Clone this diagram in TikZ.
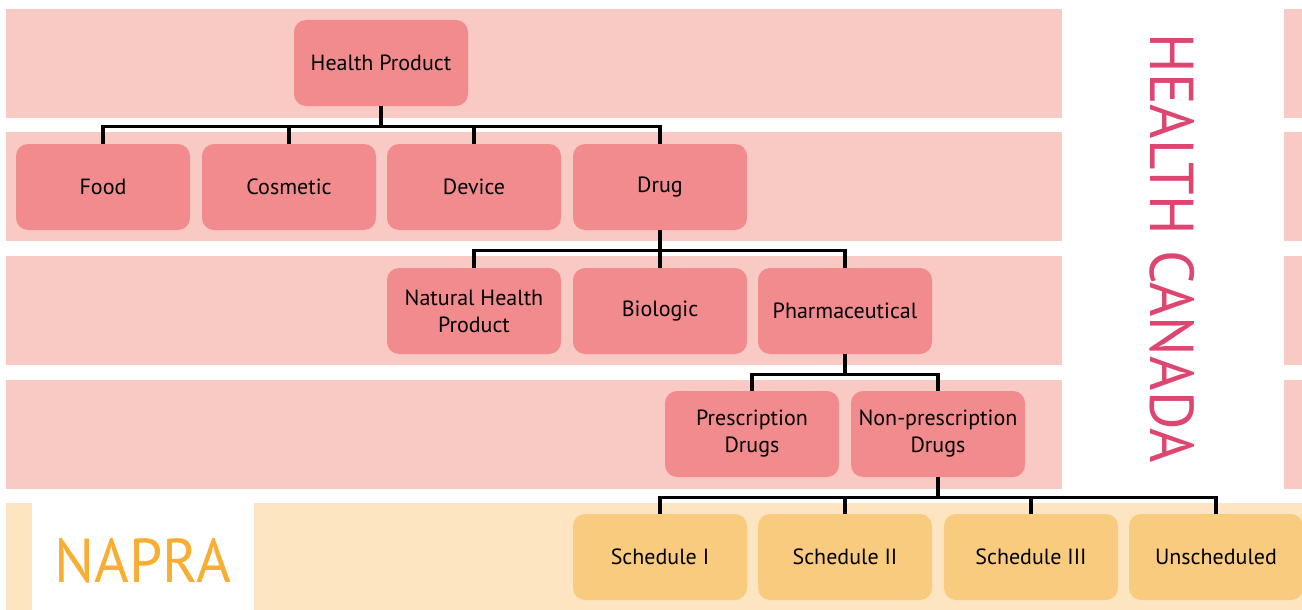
\documentclass[tikz,border=0pt]{standalone}
\usepackage{fontspec}
\setmainfont{PT Sans}
\definecolor{bandpink}{HTML}{F9C9C3}
\definecolor{boxpink}{HTML}{F28B8E}
\definecolor{bandyellow}{HTML}{FCE5C0}
\definecolor{boxyellow}{HTML}{F9CB7E}
\definecolor{hcred}{HTML}{DC4670}
\definecolor{napraorange}{HTML}{F7AE33}
\tikzset{
  catbox/.style={rectangle,rounded corners=12pt,fill=boxpink,minimum width=174pt,minimum height=86pt,align=center,inner sep=2pt,font=\fontsize{22}{27}\selectfont},
  schedbox/.style={catbox,fill=boxyellow},
  link/.style={draw=black,line width=3.2pt}
}
\begin{document}
\begin{tikzpicture}[x=1pt,y=-1pt]
	\useasboundingbox (0,0) rectangle (1302,610);
	% bands
	\foreach \top in {9,132,256,380} {
		\fill[bandpink] (6,\top) rectangle (1062,\top+109);
		\fill[bandpink] (1284,\top) rectangle (1302,\top+109);
	}
	\fill[bandyellow] (6,503) rectangle (1302,610);
	\fill[white] (32,503) rectangle (254,610);
	\node[text=hcred,rotate=-90,font=\fontsize{62}{62}\selectfont] (hc) at (1172,248) {\scalebox{0.95}[1]{HEALTH CANADA}};
	\node[text=napraorange,font=\fontsize{62}{62}\selectfont] (napra) at (143,561) {\scalebox{0.96}[1]{NAPRA}};
	% nodes
	\node[catbox] (hp) at (381,63) {Health Product};
	\node[catbox] (food) at (103,187) {Food};
	\node[catbox] (cos) at (289,187) {Cosmetic};
	\node[catbox] (dev) at (474,187) {Device};
	\node[catbox] (drug) at (660,187) {Drug};
	\node[catbox] (nhp) at (474,311) {Natural Health\\Product};
	\node[catbox] (bio) at (660,311) {Biologic};
	\node[catbox] (pharm) at (845,311) {Pharmaceutical};
	\node[catbox] (rx) at (752,434) {Prescription\\Drugs};
	\node[catbox] (otc) at (938,434) {Non-prescription\\Drugs};
	\node[schedbox] (s1) at (660,557) {Schedule I};
	\node[schedbox] (s2) at (845,557) {Schedule II};
	\node[schedbox] (s3) at (1031,557) {Schedule III};
	\node[schedbox] (uns) at (1216,557) {Unscheduled};
	% connectors
	\foreach \kid in {food,cos,dev,drug}
		\draw[link] (hp.south) -- ++(0,20) -| (\kid.north);
	\foreach \kid in {nhp,bio,pharm}
		\draw[link] (drug.south) -- ++(0,20) -| (\kid.north);
	\foreach \kid in {rx,otc}
		\draw[link] (pharm.south) -- ++(0,20) -| (\kid.north);
	\foreach \kid in {s1,s2,s3,uns}
		\draw[link] (otc.south) -- ++(0,20) -| (\kid.north);
\end{tikzpicture}
\end{document}
